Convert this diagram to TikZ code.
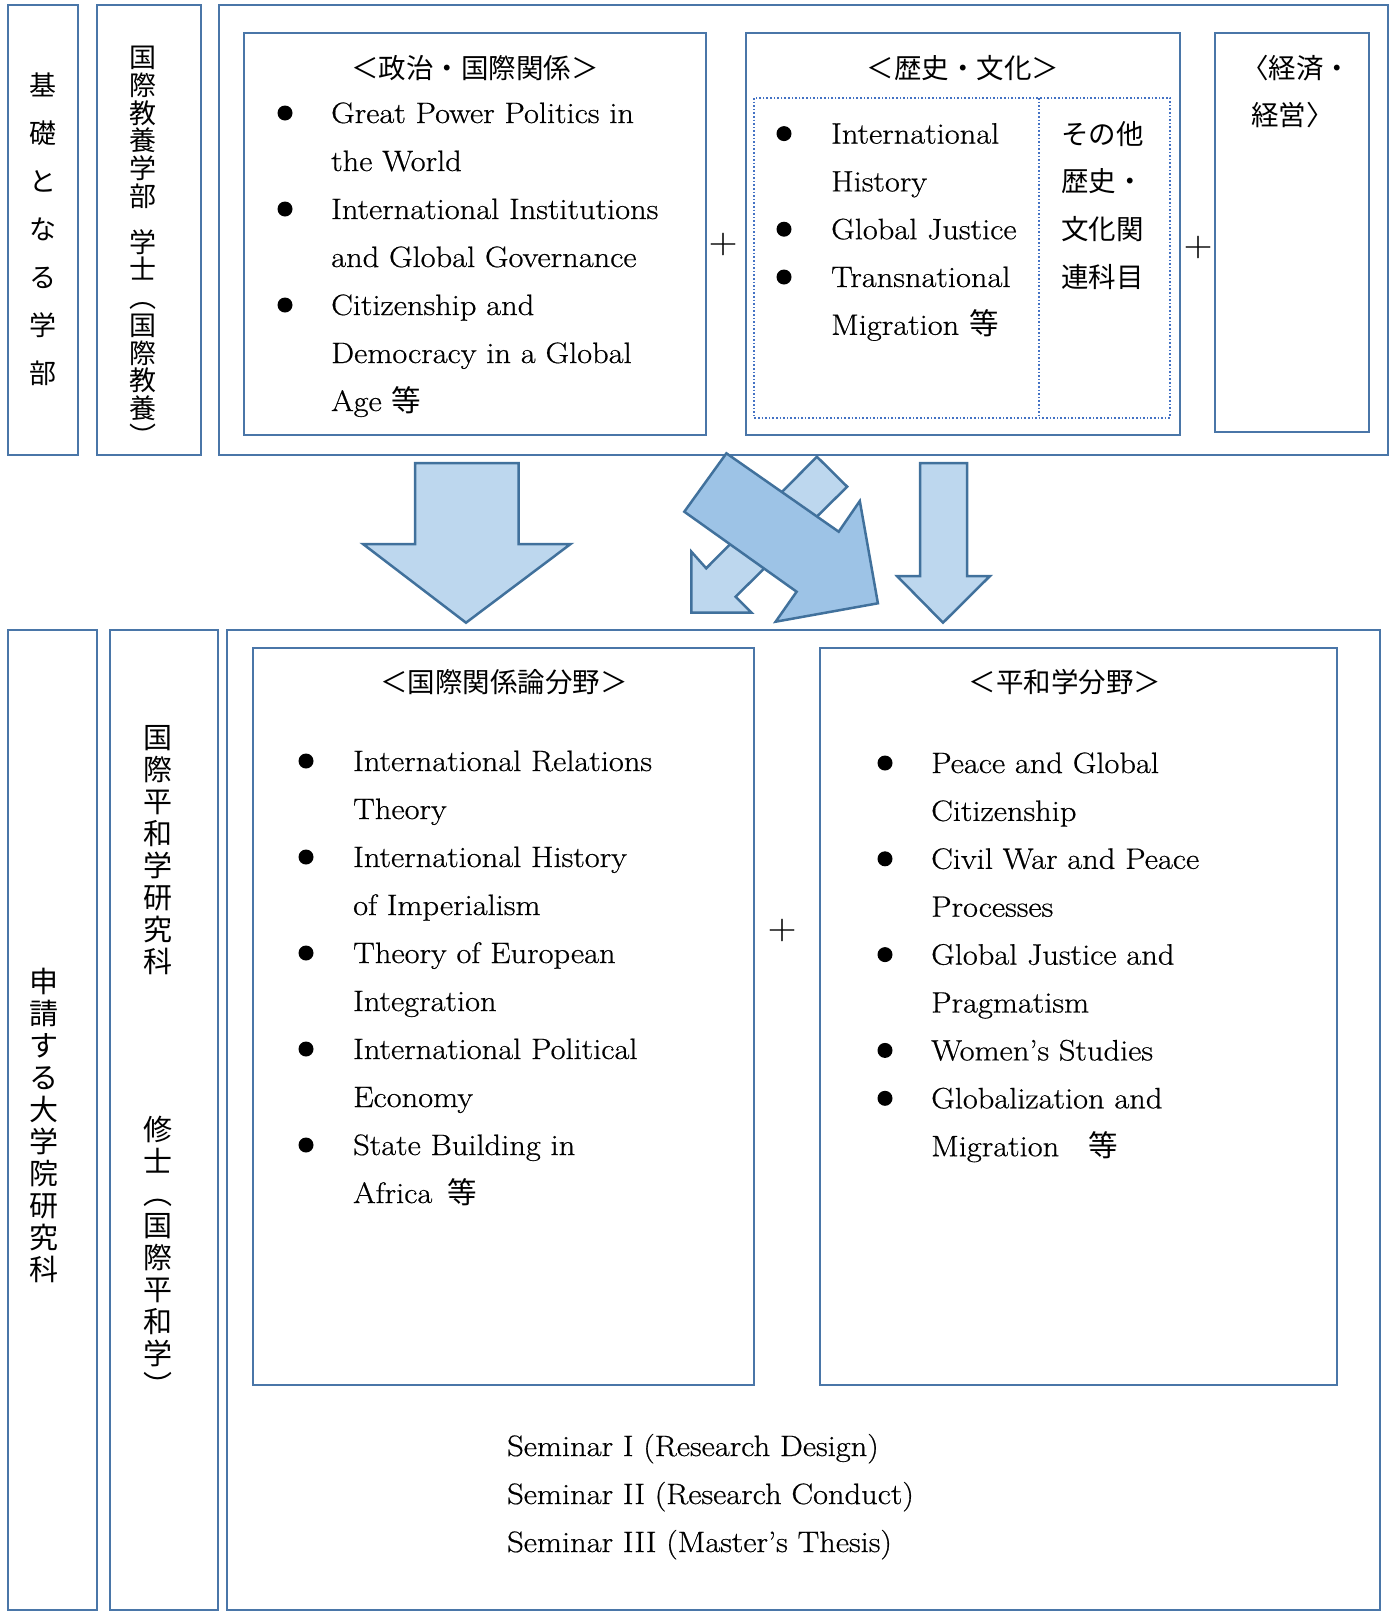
\documentclass[tikz,border=0pt]{standalone}
\usepackage{fontspec}
\usepackage{tikz}
\setmainfont{Latin Modern Roman}[FakeStretch=1.1,FakeBold=0.6]
\newfontfamily\jp{Noto Sans CJK JP}
\definecolor{boxblue}{RGB}{74,118,168}
\definecolor{dotblue}{RGB}{68,114,196}
\definecolor{arrowline}{RGB}{65,113,156}
\definecolor{lightfill}{RGB}{189,215,238}
\definecolor{darkfill}{RGB}{157,195,230}
\tikzset{
  boxline/.style={draw=boxblue,line width=2.5pt},
  dotline/.style={draw=dotblue,line width=1.6pt,dotted},
  blockarrow/.style={draw=arrowline,line width=2.5pt,line join=miter,fill=lightfill},
  darkarrow/.style={blockarrow,fill=darkfill},
  en/.style={anchor=base west,inner sep=0pt,font=\fontsize{29.5}{48}\selectfont},
  ja/.style={inner sep=0pt,font=\jp\fontsize{27.5}{36}\selectfont},
  vja/.style={ja,anchor=north,align=center},
  bulletdot/.style={circle,fill=black,inner sep=0pt,minimum size=15pt},
  plussign/.style={inner sep=0pt,font=\fontsize{36}{40}\selectfont}
}
\begin{document}
\begin{tikzpicture}[x=1pt,y=-1pt]
\useasboundingbox (0,0) rectangle (1396,1612);
% upper row
\draw[boxline] (8,5) rectangle (78,455);
\draw[boxline] (97,5) rectangle (201,455);
\draw[boxline] (219,5) rectangle (1388,455);
\draw[boxline] (244,33) rectangle (706,435);
\draw[boxline] (746,33) rectangle (1180,435);
\draw[dotline] (754,98) rectangle (1170,418);
\draw[dotline] (1039,98) -- (1039,418);
\draw[boxline] (1215,33) rectangle (1369,432);
\node[vja,font=\jp\fontsize{27}{48}\selectfont] (kiso) at (43,73) {基\\礎\\と\\な\\る\\学\\部};
\node[vja,font=\jp\fontsize{27}{27.75}\selectfont] (gakushi) at (143,46) {国\\際\\教\\養\\学\\部\\[18pt]学\\士\\︵\\国\\際\\教\\養\\︶};
\node[ja] (poltitle) at (475,68) {＜政治・国際関係＞};
\foreach \t [count=\i from 0] in {Great Power Politics in,the World,International Institutions,and Global Governance,Citizenship and,Democracy in a Global,{Age {\jp 等}}}
  \node[en] (pol-\i) at (331,123+48*\i) {\t};
\foreach \i in {0,2,4}
  \node[bulletdot] (polb-\i) at (285,113+48*\i) {};
\node[plussign] (plus1) at (723,244) {+};
\node[ja] (histitle) at (963,68) {＜歴史・文化＞};
\foreach \t [count=\i from 0] in {International,History,Global Justice,Transnational,{Migration {\jp 等}}}
  \node[en] (his-\i) at (831,143.6+47.8*\i) {\t};
\foreach \i in {0,2,3}
  \node[bulletdot] (hisb-\i) at (784,133.6+47.8*\i) {};
\foreach \t [count=\i from 0] in {その他,歴史・,文化関,連科目}
  \node[ja,anchor=west] (other-\i) at (1061,133.6+47.8*\i) {\t};
\node[plussign] (plus2) at (1198,247) {+};
\node[ja,anchor=west] (eco-0) at (1241,68) {〈経済・};
\node[ja,anchor=west] (eco-1) at (1251,115) {経営〉};
% lower row
\draw[boxline] (8,630) rectangle (97,1610);
\draw[boxline] (110,630) rectangle (218,1610);
\draw[boxline] (227,630) rectangle (1380,1610);
\draw[boxline] (253,648) rectangle (754,1385);
\draw[boxline] (820,648) rectangle (1337,1385);
\node[vja,font=\jp\fontsize{29}{32}\selectfont] (shinsei) at (44,968) {申\\請\\す\\る\\大\\学\\院\\研\\究\\科};
\node[vja,font=\jp\fontsize{29}{32}\selectfont] (kenkyuka) at (158,725) {国\\際\\平\\和\\学\\研\\究\\科};
\node[vja,font=\jp\fontsize{29}{32}\selectfont] (shushi) at (158,1116) {修\\士\\︵\\国\\際\\平\\和\\学\\︶};
\node[ja] (irtitle) at (504,682) {＜国際関係論分野＞};
\foreach \t [count=\i from 0] in {International Relations,Theory,International History,of Imperialism,Theory of European,Integration,International Political,Economy,State Building in,{Africa\enskip{\jp 等}}}
  \node[en] (ir-\i) at (353,771+48*\i) {\t};
\foreach \i in {0,2,4,6,8}
  \node[bulletdot] (irb-\i) at (306,761+48*\i) {};
\node[plussign] (plus3) at (782,930) {+};
\node[ja] (peacetitle) at (1065,682) {＜平和学分野＞};
\foreach \t [count=\i from 0] in {Peace and Global,Citizenship,Civil War and Peace,Processes,Global Justice and,Pragmatism,Women’s Studies,Globalization and,{Migration\quad{\jp 等}}}
  \node[en] (pc-\i) at (931,773+47.9*\i) {\t};
\foreach \i in {0,2,4,6,7}
  \node[bulletdot] (pcb-\i) at (885,763+47.9*\i) {};
\foreach \t [count=\i from 0] in {{Seminar I (Research Design)},{Seminar II (Research Conduct)},{Seminar III (Master’s Thesis)}}
  \node[en] (sem-\i) at (507,1456+48*\i) {\t};
% arrows between the rows
\draw[blockarrow] (415,463) -- (518.5,463) -- (518.5,544) -- (570.6,544) -- (466,622.7) -- (363,544) -- (415,544) -- cycle;
\draw[blockarrow] (920,463) -- (967,463) -- (967,576) -- (990,576) -- (943,622.7) -- (897,576) -- (920,576) -- cycle;
\draw[blockarrow] (816.9,456.7) -- (847.2,486.7) -- (735.6,596.7) -- (751.6,612.7) -- (691.4,612.7) -- (691.4,551.7) -- (706.2,568.3) -- cycle;
\draw[darkarrow] (726.4,453.3) -- (838.7,531.7) -- (859.8,501) -- (877.9,603.3) -- (775.6,621.7) -- (796.6,591.7) -- (684.3,511.7) -- cycle;
\end{tikzpicture}
\end{document}
